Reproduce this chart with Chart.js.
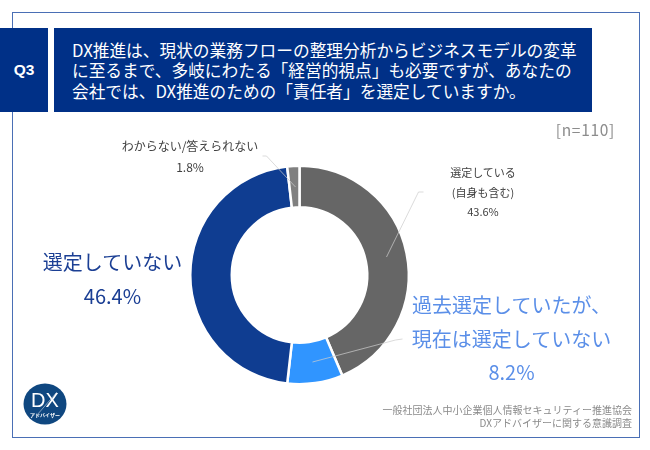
<!DOCTYPE html>
<html lang="ja"><head><meta charset="utf-8">
<script src="https://cdn.jsdelivr.net/npm/chart.js@4"></script>
<style>
html,body{margin:0;padding:0;background:#fff}
#wrap{position:relative;width:650px;height:450px;overflow:hidden;font-family:"Noto Sans CJK JP","Noto Sans",sans-serif}
canvas{position:absolute;left:0;top:0}
.t{position:absolute;white-space:nowrap;text-align:center}
#frame{position:absolute;left:12px;top:12px;width:628px;height:426px;border:1.5px solid #4a6fb5;box-sizing:border-box}
#q{position:absolute;left:0;top:28px;width:48px;height:84px;background:#003087;color:#fff;font:700 15.5px "Liberation Sans",sans-serif;display:flex;align-items:center;justify-content:center;box-sizing:border-box}
#h{position:absolute;left:54px;top:28px;width:538px;height:84px;background:#003087;color:#fff;font-size:16.7px;line-height:20.5px;padding:11.5px 0 0 18px;box-sizing:border-box;white-space:pre}
</style></head><body>
<div id="wrap">
<div id="frame"></div>
<canvas id="c" width="650" height="450"></canvas>
<div id="q"></div><div id="h"></div>
<div class="t" id="n" style="right:35px;top:118px;font-size:15.5px;color:#8c8c8c;letter-spacing:.7px"></div>
<div class="t" id="l0" style="left:442px;top:163px;width:82px;font-size:11px;line-height:19.5px;color:#404040"></div>
<div class="t" id="l1" style="left:399px;top:288px;width:225px;font-size:20px;line-height:33.5px;color:#5b8fe8"></div>
<div class="t" id="l2" style="left:35px;top:245px;width:155px;font-size:20px;line-height:34px;color:#1b3f94"></div>
<div class="t" id="l3" style="left:115px;top:135px;width:150px;font-size:12px;line-height:21px;color:#404040"></div>
<div class="t" id="src" style="right:18px;top:403px;text-align:right;font-size:10px;line-height:13px;color:#8a8a8a"></div>
<svg style="position:absolute;left:23px;top:383px" width="44" height="42" viewBox="0 0 44 42">
<ellipse cx="22" cy="21" rx="21.5" ry="20.5" fill="#0f4780"/>
<text x="22" y="24" text-anchor="middle" font-family="Liberation Sans" font-size="20" fill="#fff">DX</text>
<line x1="14" y1="32" x2="34" y2="9" stroke="#cfd8e6" stroke-width=".6"/>
<text x="22" y="34" text-anchor="middle" font-size="5" font-weight="700" fill="#fff">アドバイザー</text>
</svg>
</div>
<script>
const categories=["選定している(自身も含む)","過去選定していたが、現在は選定していない","選定していない","わからない/答えられない"];
const shares=[43.6,8.2,46.4,1.8];
const sliceColors=["#666666","#3095FF","#0F3D91","#808080"];
const questionId="Q3";
const questionLines=["DX推進は、現状の業務フローの整理分析からビジネスモデルの変革","に至るまで、多岐にわたる「経営的視点」も必要ですが、あなたの","会社では、DX推進のための「責任者」を選定していますか。"];
const sampleNote="[n=110]";
const labelLines=[["選定している","(自身も含む)"],["過去選定していたが、","現在は選定していない"],["選定していない"],["わからない/答えられない"]];
const sourceLines=["一般社団法人中小企業個人情報セキュリティー推進協会","DXアドバイザーに関する意識調査"];
const leaderColor="rgba(205,205,205,.9)";

document.getElementById("q").textContent=questionId;
document.getElementById("h").textContent=questionLines.join("\n");
document.getElementById("n").textContent=sampleNote;
document.getElementById("src").innerHTML=sourceLines.join("<br>");
labelLines.forEach((ls,i)=>{document.getElementById("l"+i).innerHTML=ls.concat(shares[i].toFixed(1)+"%").join("<br>")});

const leaders={id:"leaders",afterDatasetsDraw(ch){
  const a=ch.getDatasetMeta(0).data,x=ch.ctx;
  const cx=a[0].x,cy=a[0].y;
  const paths=[[[cx+124,cy-83],[cx+119,cy-83],[cx+87,cy-18]],
               [[cx+103,cy+64],[cx+96,cy+65],[cx+13,cy+87]],null,
               [[cx-37,cy-119],[cx-33,cy-119],[cx-4,cy-88]]];
  x.save();x.strokeStyle=leaderColor;x.lineWidth=.8;
  paths.forEach(p=>{if(!p)return;x.beginPath();p.forEach((q,i)=>i?x.lineTo(q[0],q[1]):x.moveTo(q[0],q[1]));x.stroke()});
  x.restore();
}};
new Chart(document.getElementById("c"),{
  type:"doughnut",
  data:{labels:categories,datasets:[{data:shares,backgroundColor:sliceColors,borderColor:"#fff",borderWidth:2.5,borderAlign:"center"}]},
  options:{responsive:false,animation:false,cutout:"62%",
    layout:{padding:{left:189,right:240,top:164,bottom:64}},
    plugins:{legend:{display:false},tooltip:{enabled:false}}},
  plugins:[leaders]
});
</script>
</body></html>
